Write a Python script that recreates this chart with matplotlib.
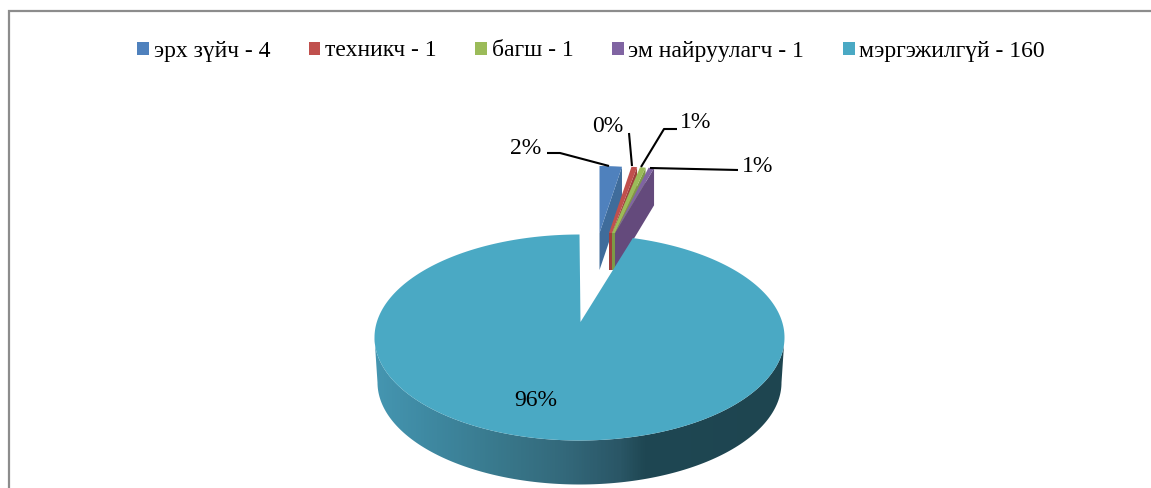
import numpy as np
import matplotlib
matplotlib.use("Agg")
import matplotlib.pyplot as plt
from matplotlib.patches import Polygon, Patch
from matplotlib.colors import LinearSegmentedColormap

categories = ["эрх зүйч", "техникч", "багш", "эм найруулагч", "мэргэжилгүй"]
values = [4, 1, 1, 1, 160]
pct_labels = ["2%", "0%", "1%", "1%", "96%"]
top_colors = ["#4f81bd", "#c0504d", "#9bbb59", "#8064a2", "#4aa9c4"]
side_colors = ["#3f6c9b", "#9e3f3c", "#7d9a46", "#644a7c", "#1e4550"]

plt.rcParams["font.family"] = ["Liberation Serif", "DejaVu Serif"]
W, H = 1151, 488
fig = plt.figure(figsize=(W / 100, H / 100), dpi=100)
ax = fig.add_axes([0, 0, 1, 1])
ax.set_axis_off()

# pie geometry in pixels
cx, cy, rx, ry = 579.5, 337.5, 205, 103
depth = 45
bottom_rx, bottom_ry = 202, 102
main_apex = (580.5, 322)
small_rx, small_ry, small_depth = 150, 67, 37
small_apex_x = [599.5, 609, 612, 615]
small_apex_w = [0, 3, 3, 0]
small_apex_y = 233

edges = np.concatenate([[0], np.cumsum(values)]) / sum(values) * 2 * np.pi

def arc(a0, a1, x0, y0, a, b, n=60):
    t = np.linspace(a0, a1, n)
    return np.column_stack([x0 + a * np.sin(t), y0 - b * np.cos(t)])

# frame
ax.plot([9, 9, W + 5], [H + 5, 10.5, 10.5], color="#8c8c8c", lw=1.6, solid_joinstyle="miter", zorder=1)

# exploded small slices
for i in range(4):
    ax_, ay_, w_ = small_apex_x[i], small_apex_y, small_apex_w[i]
    outer = arc(edges[i], edges[i + 1], ax_, ay_, small_rx, small_ry, 8)
    end = outer[-1]
    side = [(ax_ + w_, ay_), tuple(end), (end[0], end[1] + small_depth), (ax_ + w_, ay_ + small_depth), (ax_, ay_ + small_depth), (ax_, ay_)]
    ax.add_patch(Polygon(side, closed=True, fc=side_colors[i], ec="none", zorder=2))
    ax.add_patch(Polygon(np.vstack([[(ax_, ay_)], outer, [(ax_ + w_, ay_)]]), closed=True, fc=top_colors[i], ec="none", zorder=3))

# main slice wall with gradient
top_front = arc(np.pi / 2, 3 * np.pi / 2, cx, cy, rx, ry, 160)
bot_front = arc(3 * np.pi / 2, np.pi / 2, cx, cy + depth, bottom_rx, bottom_ry, 160)
wall = Polygon(np.vstack([top_front, bot_front]), closed=True, fc="none", ec="none", transform=ax.transData)
ax.add_patch(wall)
wall_cmap = LinearSegmentedColormap.from_list(
    "wall",
    [(0.0, "#4596b1"), (0.12, "#3f8aa3"), (0.33, "#387689"), (0.47, "#33687a"),
     (0.60, "#2a5666"), (0.66, "#1f4753"), (1.0, "#1e4550")],
)
img = ax.imshow(np.linspace(0, 1, 410)[None, :], cmap=wall_cmap, vmin=0, vmax=1,
                extent=[374, 784, cy + depth + bottom_ry + 2, cy - 2], aspect="auto", zorder=4)
img.set_clip_path(wall)

# main slice top
main_top = arc(edges[4], edges[5], cx, cy, rx, ry, 300)
ax.add_patch(Polygon(np.vstack([[main_apex], main_top]), closed=True,
                     fc=top_colors[4], ec="none", zorder=5))

# leader lines
leaders = [
    ([547, 560, 609], [153, 153, 166]),
    ([629, 632], [133, 166]),
    ([677, 664, 641], [129, 129, 167]),
    ([738, 650], [170, 168]),
]
for xs, ys in leaders:
    ax.plot(xs, ys, color="black", lw=1.5, zorder=6, solid_capstyle="butt")

# data labels
label_pos = [(526, 149), (608, 127), (696, 123), (758, 166), (536, 401)]
for lab, (x, y) in zip(pct_labels, label_pos):
    ax.text(x, y, lab, fontsize=17, ha="center", va="center", color="black", zorder=7)

# legend
handles = [Patch(fc=c, ec="none") for c in top_colors]
labels = [f"{c} - {v}" for c, v in zip(categories, values)]
ax.legend(handles, labels, ncol=5, loc="center", bbox_to_anchor=(591 / W, 1 - 51 / H),
          bbox_transform=ax.transAxes, frameon=False, fontsize=17, handlelength=0.5,
          handleheight=0.47, handletextpad=0.2, columnspacing=1.63, borderpad=0, labelspacing=0)

ax.set_xlim(0, W)
ax.set_ylim(H, 0)
fig.savefig("out.png", dpi=100, facecolor="white")
